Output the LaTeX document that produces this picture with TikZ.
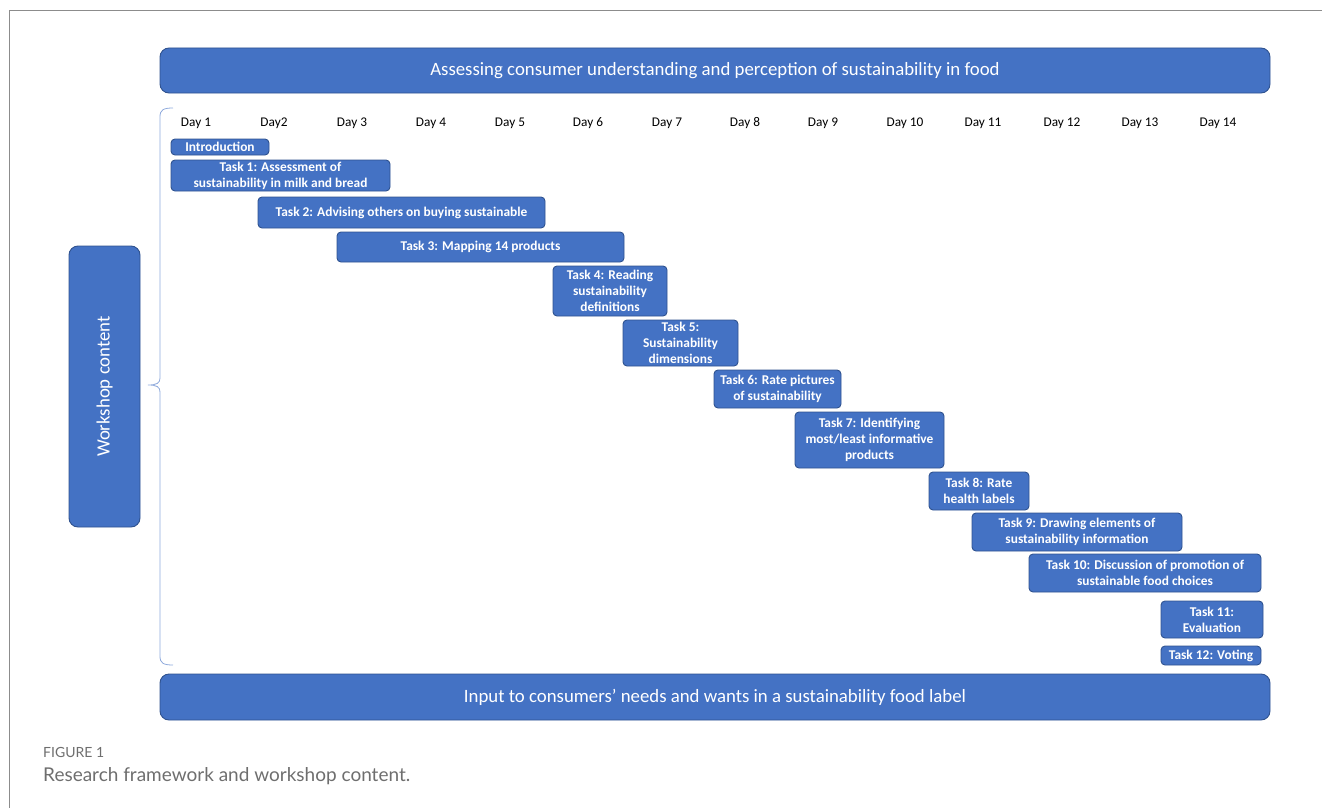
\documentclass[tikz,border=0pt]{standalone}
\usepackage{fontspec}
\setmainfont{Carlito}
\newfontfamily\capfont{Lato}
\definecolor{boxfill}{HTML}{4472C4}
\definecolor{boxline}{HTML}{2F528F}
\definecolor{bracecol}{HTML}{8FAADC}
\definecolor{framecol}{HTML}{8C8C8C}
\definecolor{capcol}{HTML}{6E6E6E}
\tikzset{
  bluebox/.style={draw=boxline, fill=boxfill, line width=0.9pt, rounded corners=5pt, text=white, inner sep=0pt, align=center},
  bigbox/.style={bluebox, rounded corners=9pt, font=\fontsize{18.8}{22}\selectfont},
  taskbox/.style={bluebox, rounded corners=4pt, font=\bfseries\fontsize{13.4}{16}\selectfont},
  daylabel/.style={font=\fontsize{13.3}{15}\selectfont, inner sep=0pt}
}
\begin{document}
\begin{tikzpicture}[x=1pt,y=-1pt]
\useasboundingbox (0,0) rectangle (1322,808);
% frame
\draw[framecol, line width=1pt] (9,808) -- (9,11) -- (1322,11);
% title and bottom
\node[bigbox, minimum width=1110, minimum height=45] (title) at (715,70.5) {Assessing consumer understanding and perception of sustainability in food};
\node[bigbox, minimum width=1110, minimum height=46] (bottom) at (715,697) {Input to consumers’ needs and wants in a sustainability food label};
% workshop box
\node[bigbox, minimum width=281, minimum height=71, rotate=90] (workshop) at (104.5,386.5) {Workshop content};
% brace
\draw[bracecol, line width=0.8pt] (173,108) .. controls (163,108) and (160,110) .. (160,117) -- (160,378)
  .. controls (160,383) and (157,385) .. (148,385)
  .. controls (157,385) and (160,387) .. (160,392) -- (160,656)
  .. controls (160,663) and (163,665) .. (173,665);
% days
\foreach \lab/\xx [count=\i] in {Day 1/196,Day2/274,Day 3/352,Day 4/431,Day 5/510,Day 6/588,Day 7/667,Day 8/745,Day 9/823,Day 10/905,Day 11/983,Day 12/1062,Day 13/1140,Day 14/1218}
  \node[daylabel] (day\i) at (\xx,123) {\lab};
% tasks
\node[taskbox, minimum width=98, minimum height=16] (intro) at (220,147) {Introduction};
\node[taskbox, minimum width=219, minimum height=31] (t1) at (280.5,175.5) {Task 1: Assessment of\\sustainability in milk and bread};
\node[taskbox, minimum width=287, minimum height=31] (t2) at (401.5,212.5) {Task 2: Advising others on buying sustainable};
\node[taskbox, minimum width=287, minimum height=30] (t3) at (480.5,247) {Task 3: Mapping 14 products};
\node[taskbox, minimum width=114, minimum height=50] (t4) at (610,291) {Task 4: Reading\\sustainability\\definitions};
\node[taskbox, minimum width=115, minimum height=46] (t5) at (680.5,343) {Task 5:\\Sustainability\\dimensions};
\node[taskbox, minimum width=127, minimum height=38] (t6) at (777.5,389) {Task 6: Rate pictures\\of sustainability};
\node[taskbox, minimum width=149, minimum height=56] (t7) at (869.5,440) {Task 7: Identifying\\most/least informative\\products};
\node[taskbox, minimum width=100, minimum height=38] (t8) at (979,491) {Task 8: Rate\\health labels};
\node[taskbox, minimum width=210, minimum height=38] (t9) at (1077,532) {Task 9: Drawing elements of\\sustainability information};
\node[taskbox, minimum width=232, minimum height=38] (t10) at (1145,573) {Task 10: Discussion of promotion of\\sustainable food choices};
\node[taskbox, minimum width=102, minimum height=37] (t11) at (1212,619.5) {Task 11:\\Evaluation};
\node[taskbox, minimum width=100, minimum height=19] (t12) at (1211,655.5) {Task 12: Voting};
% caption
\node[anchor=base west, inner sep=0pt, text=capcol, font=\capfont\fontsize{14}{16}\selectfont] (figlab) at (43,757) {FIGURE 1};
\node[anchor=base west, inner sep=0pt, text=capcol, font=\capfont\fontsize{19}{22}\selectfont] (caption) at (43,781) {Research framework and workshop content.};
\end{tikzpicture}
\end{document}
